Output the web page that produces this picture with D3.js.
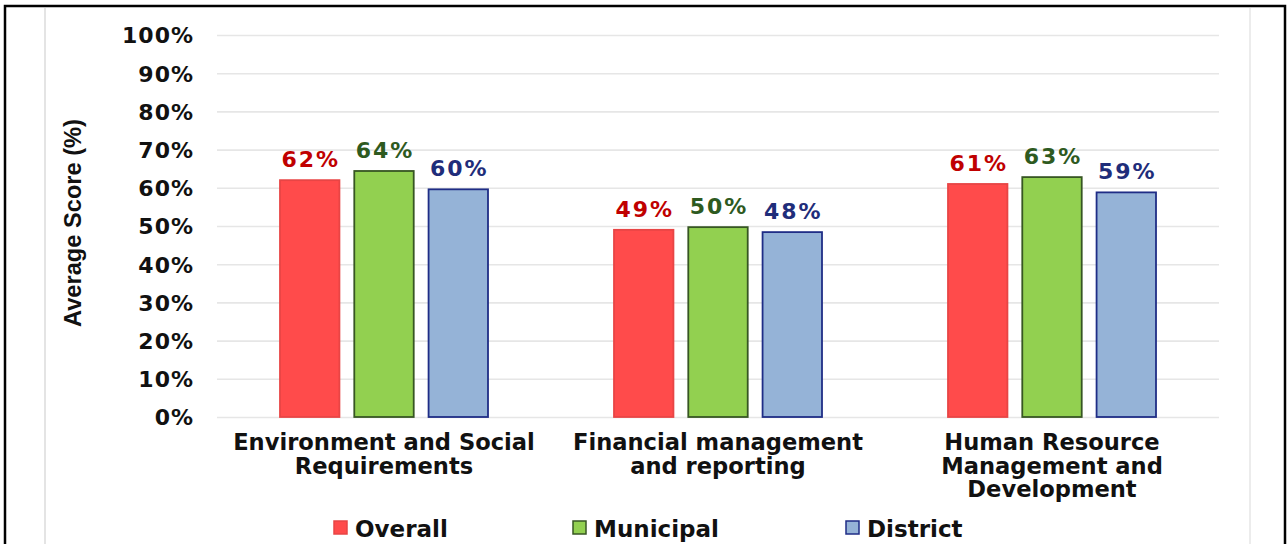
<!DOCTYPE html>
<html>
<head>
<meta charset="utf-8">
<script src="https://cdn.jsdelivr.net/npm/d3@7"></script>
<style>
  html, body { margin: 0; padding: 0; background: #fff; }
  svg { display: block; }
  text { font-family: "DejaVu Sans", Verdana, sans-serif; font-weight: bold; }
</style>
</head>
<body>
<svg id="chart" width="1288" height="544"></svg>
<script>
// ---- data ----
const categories = [
  ["Environment and Social", "Requirements"],
  ["Financial management", "and reporting"],
  ["Human Resource", "Management and", "Development"]
];
const seriesNames = ["Overall", "Municipal", "District"];
const overall   = [62, 49, 61];
const municipal = [64.4, 49.7, 62.8];
const district  = [59.6, 48.4, 58.8];
const valueLabels = [
  ["62%", "64%", "60%"],
  ["49%", "50%", "48%"],
  ["61%", "63%", "59%"]
];
const tickValues = [0, 10, 20, 30, 40, 50, 60, 70, 80, 90, 100];
const yTitle = "Average Score (%)";

// ---- styles ----
const fills   = ["#FF4B4B", "#92D050", "#95B3D7"];
const strokes = ["#E84545", "#375623", "#1F2D86"];
const labelColors = ["#C00000", "#2E5A1F", "#1F2D7A"];

const svg = d3.select("#chart");

// frame
svg.append("line").attr("x1", 45).attr("x2", 45).attr("y1", 8).attr("y2", 544)
  .attr("stroke", "#e4e4e4").attr("stroke-width", 2);
svg.append("line").attr("x1", 1250).attr("x2", 1250).attr("y1", 8).attr("y2", 544)
  .attr("stroke", "#ececec").attr("stroke-width", 2);
svg.append("path").attr("d", "M5,560 L5,6 L1285,6 L1285,560")
  .attr("fill", "none").attr("stroke", "#000").attr("stroke-width", 2.5);

const plotLeft = 217, plotRight = 1219, plotTop = 35, plotBottom = 417;

const y = d3.scaleLinear().domain([0, 100]).range([plotBottom, plotTop]);
const x0 = d3.scaleBand().domain(d3.range(categories.length)).range([plotLeft, plotRight]);
const x1 = d3.scaleBand().domain(seriesNames).range([0, 208]).paddingInner(0.2);

// gridlines
const yAxis = d3.axisLeft(y).tickValues(tickValues).tickSize(-(plotRight - plotLeft))
  .tickFormat(d => d + "%").tickPadding(23);
const gy = svg.append("g").attr("transform", `translate(${plotLeft},0)`).call(yAxis);
gy.select(".domain").remove();
gy.selectAll(".tick line").attr("stroke", "#e6e6e6").attr("stroke-width", 1.6);
gy.selectAll(".tick text").attr("fill", "#111").style("font-size", "22px")
  .style("letter-spacing", "1px")
  .attr("dy", "0.36em");

// y title
svg.append("text")
  .attr("transform", `translate(81,223) rotate(-90)`)
  .attr("text-anchor", "middle")
  .attr("textLength", 208).attr("lengthAdjust", "spacingAndGlyphs")
  .style("font-family", "'Liberation Sans Narrow', 'Liberation Sans', Arial, sans-serif")
  .style("font-size", "23px")
  .attr("fill", "#111")
  .text(yTitle);

// bars
const seriesData = [overall, municipal, district];
const groups = svg.append("g").selectAll("g").data(categories).join("g")
  .attr("transform", (d, i) => `translate(${x0(i) + x0.bandwidth() / 2 - 104},0)`);

groups.each(function (cat, ci) {
  const g = d3.select(this);
  seriesNames.forEach((s, si) => {
    const v = seriesData[si][ci];
    g.append("rect")
      .attr("x", x1(s)).attr("width", x1.bandwidth())
      .attr("y", y(v)).attr("height", y(0) - y(v))
      .attr("fill", fills[si]).attr("stroke", strokes[si]).attr("stroke-width", 1.8);
    g.append("text")
      .attr("x", x1(s) + x1.bandwidth() / 2 + 1)
      .attr("y", y(v) - 13)
      .attr("text-anchor", "middle")
      .style("font-size", "22px")
      .style("letter-spacing", "2px")
      .attr("fill", labelColors[si])
      .text(valueLabels[ci][si]);
  });
});

// category labels
categories.forEach((lines, i) => {
  const t = svg.append("text")
    .attr("x", x0(i) + x0.bandwidth() / 2)
    .attr("text-anchor", "middle")
    .style("font-size", "22.6px")
    .attr("fill", "#111");
  lines.forEach((ln, k) => {
    t.append("tspan").attr("x", x0(i) + x0.bandwidth() / 2).attr("y", 450 + k * 23.5).text(ln);
  });
});

// legend
const legendX = [334, 573, 846];
seriesNames.forEach((s, i) => {
  svg.append("rect").attr("x", legendX[i]).attr("y", 521).attr("width", 13).attr("height", 13)
    .attr("fill", fills[i]).attr("stroke", strokes[i]).attr("stroke-width", 1.5);
  svg.append("text").attr("x", legendX[i] + 21).attr("y", 537)
    .style("font-size", "23px").attr("fill", "#111").text(s);
});
</script>
</body>
</html>
